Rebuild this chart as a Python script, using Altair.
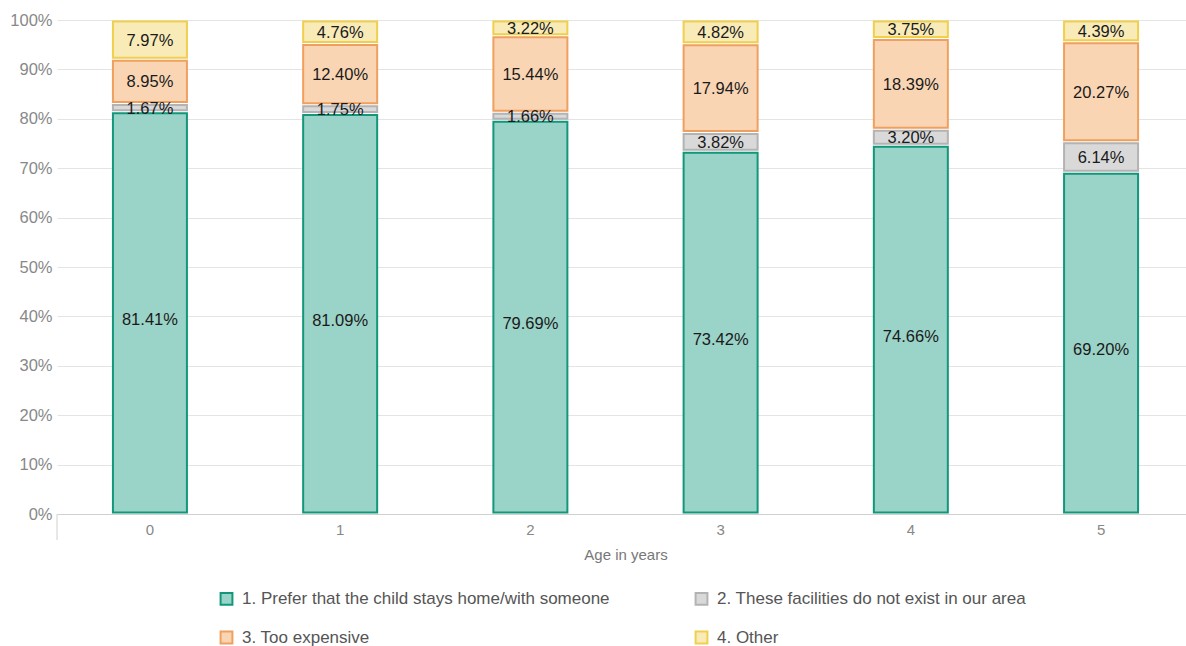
import altair as alt
import pandas as pd

# Reasons for not using childcare, share of respondents by child's age
ages = ["0", "1", "2", "3", "4", "5"]
categories = [
    "1. Prefer that the child stays home/with someone",
    "2. These facilities do not exist in our area",
    "3. Too expensive",
    "4. Other",
]
prefer_home = [81.41, 81.09, 79.69, 73.42, 74.66, 69.20]
no_facilities = [1.67, 1.75, 1.66, 3.82, 3.20, 6.14]
too_expensive = [8.95, 12.40, 15.44, 17.94, 18.39, 20.27]
other = [7.97, 4.76, 3.22, 4.82, 3.75, 4.39]

fill_colors = ["#9ad3c7", "#d9d9d9", "#f9d5b4", "#f8ebb8"]
stroke_colors = ["#12977b", "#b3b3b3", "#f0a05e", "#f0cf4c"]

series = [prefer_home, no_facilities, too_expensive, other]
rows = []
for k, (cat, vals) in enumerate(zip(categories, series)):
    for age, v in zip(ages, vals):
        rows.append({"age": age, "category": cat, "order": k, "value": v})
df = pd.DataFrame(rows)

W, H = 1129, 494
FONT = "Liberation Sans"

base = (
    alt.Chart(df)
    .transform_stack(
        stack="value",
        groupby=["age"],
        sort=[alt.SortField("order", order="ascending")],
        as_=["v0", "v1"],
    )
    .transform_calculate(
        mid="(datum.v0 + datum.v1) / 2",
        label="format(datum.value, '.2f') + '%'",
    )
)

x_enc = alt.X(
    "age:N",
    sort=ages,
    scale=alt.Scale(range=[0, 1137], paddingInner=0.611, paddingOuter=0.294),
    axis=alt.Axis(
        title="Age in years",
        labelAngle=0,
        ticks=False,
        labelPadding=8,
        labelFontSize=15,
        labelColor="#888888",
        labelFont=FONT,
        titleFont=FONT,
        titleFontSize=15,
        titleFontWeight="normal",
        titleColor="#777777",
        titlePadding=10,
        domainColor="#d0d0d0",
        grid=False,
    ),
)

y_scale = alt.Scale(domain=[0, 100], nice=False)

bars = base.mark_bar(strokeWidth=2, yOffset=1.5, y2Offset=-1.5).encode(
    x=x_enc,
    y=alt.Y(
        "v1:Q",
        scale=y_scale,
        axis=alt.Axis(
            title=None,
            values=list(range(0, 101, 10)),
            labelExpr="datum.value + '%'",
            ticks=False,
            domain=False,
            labelPadding=5,
            labelFontSize=16.5,
            labelColor="#888888",
            labelFont=FONT,
            gridColor="#e4e4e4",
        ),
    ),
    y2="v0:Q",
    fill=alt.Fill(
        "category:N",
        scale=alt.Scale(domain=categories, range=fill_colors),
        legend=alt.Legend(
            title=None,
            orient="none",
            direction="horizontal",
            legendX=161,
            legendY=570,
            columns=2,
            columnPadding=81,
            rowPadding=18,
            symbolType="square",
            symbolSize=140,
            symbolStrokeWidth=2,
            labelFontSize=17,
            labelFont=FONT,
            labelColor="#555555",
            labelOffset=7,
            labelLimit=500,
        ),
    ),
    stroke=alt.Stroke(
        "category:N",
        scale=alt.Scale(domain=categories, range=stroke_colors),
        legend=alt.Legend(title=None),
    ),
    order=alt.Order("order:Q"),
)

text_style = dict(fontSize=16.5, font=FONT, color="#1a1a1a", baseline="middle")

labels_main = (
    base.transform_filter(alt.datum.order == 0)
    .mark_text(dy=7, **text_style)
    .encode(x=alt.X("age:N", sort=ages), y=alt.Y("mid:Q", scale=y_scale), text="label:N")
)
labels_rest = (
    base.transform_filter(alt.datum.order > 0)
    .mark_text(dy=1, **text_style)
    .encode(x=alt.X("age:N", sort=ages), y=alt.Y("mid:Q", scale=y_scale), text="label:N")
)

edge_tick = (
    alt.Chart(pd.DataFrame({"a": [0]}))
    .mark_rule(color="#d0d0d0", strokeWidth=1)
    .encode(x=alt.value(0), y=alt.value(H), y2=alt.value(H + 26))
)

chart = (
    alt.layer(bars, labels_main, labels_rest, edge_tick)
    .properties(
        width=W,
        height=H,
        autosize=alt.AutoSizeParams(type="none"),
        padding={"left": 57, "top": 20, "right": 0, "bottom": 132},
    )
    .configure_view(stroke=None)
)

chart.save("out.html", embed_options={"renderer": "svg", "actions": False})
